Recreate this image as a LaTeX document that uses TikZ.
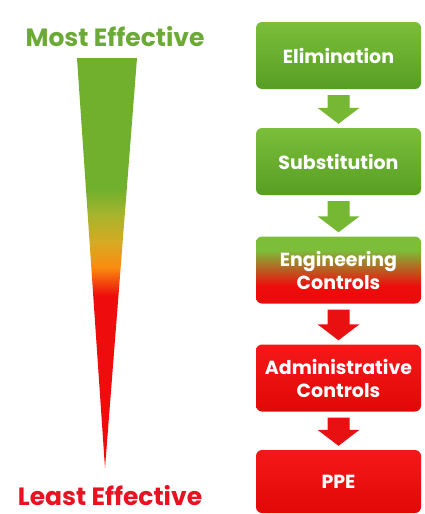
\documentclass[tikz,border=0pt]{standalone}
\usepackage{fontspec}
\setmainfont{Poppins}
\usetikzlibrary{calc}
\definecolor{wred}{RGB}{238,12,12}
\definecolor{worange}{RGB}{250,140,15}
\definecolor{wyellow}{RGB}{215,170,35}
\definecolor{wolive}{RGB}{165,180,45}
\definecolor{wgreen}{RGB}{112,176,45}
\definecolor{gtop}{RGB}{124,190,58}
\definecolor{gbot}{RGB}{86,158,36}
\definecolor{garrow}{RGB}{118,184,52}
\definecolor{rtop}{RGB}{246,24,24}
\definecolor{rbot}{RGB}{225,8,8}
\definecolor{rarrow}{RGB}{232,16,16}
\definecolor{mosttxt}{RGB}{108,170,55}
\definecolor{leasttxt}{RGB}{232,18,32}
\pgfdeclareverticalshading{wedgeshade}{100bp}{color(0bp)=(wred); color(46bp)=(wred); color(49.5bp)=(worange); color(52.5bp)=(wyellow); color(56bp)=(wolive); color(59bp)=(wgreen); color(100bp)=(wgreen)}
\pgfdeclareverticalshading{engshade}{100bp}{color(0bp)=(rbot); color(38bp)=(wred); color(65bp)=(gtop); color(100bp)=(gtop)}
\tikzset{
  box/.style={rectangle, rounded corners=6pt, minimum width=165pt, minimum height=67pt,
    text=white, align=center, font=\fontsize{19}{23}\selectfont\bfseries, inner sep=0pt},
  greenbox/.style={box, top color=gtop, bottom color=gbot},
  redbox/.style={box, top color=rtop, bottom color=rbot},
  engbox/.style={box, shading=engshade},
  labeltxt/.style={font=\fontsize{25}{30}\selectfont\bfseries},
}
\newcommand\blockarrow[3]{%
  \fill[#1] let \p1=(#2.south), \p2=(#3.north) in
    (\x1-11pt,\y1-6pt) -- (\x1+11pt,\y1-6pt) -- (\x1+11pt,\y2+20pt) -- (\x1+21pt,\y2+20pt)
    -- (\x1,\y2+4pt) -- (\x1-21pt,\y2+20pt) -- (\x1-11pt,\y2+20pt) -- cycle;}
\begin{document}
\begin{tikzpicture}[x=1pt,y=-1pt]
\useasboundingbox (0,0) rectangle (425,514);
\fill[white] (0,0) rectangle (425,514);
% wedge
\shade[shading=wedgeshade] (77,58) -- (137,58) -- (105,468) -- cycle;
\node[labeltxt, text=mosttxt] (most) at (115,37) {Most Effective};
\node[labeltxt, text=leasttxt] (least) at (110,496) {Least Effective};
% boxes
\node[greenbox] (elim) at (338.5,55.5) {Elimination};
\node[greenbox] (subst) at (338.5,161.5) {Substitution};
\node[engbox] (eng) at (338.5,270) {Engineering\\Controls};
\node[redbox] (admin) at (338.5,378) {Administrative\\Controls};
\node[redbox, minimum height=63pt] (ppe) at (338.5,481.5) {PPE};
% arrows
\blockarrow{garrow}{elim}{subst}
\blockarrow{garrow}{subst}{eng}
\blockarrow{rarrow}{eng}{admin}
\blockarrow{rarrow}{admin}{ppe}
\end{tikzpicture}
\end{document}
